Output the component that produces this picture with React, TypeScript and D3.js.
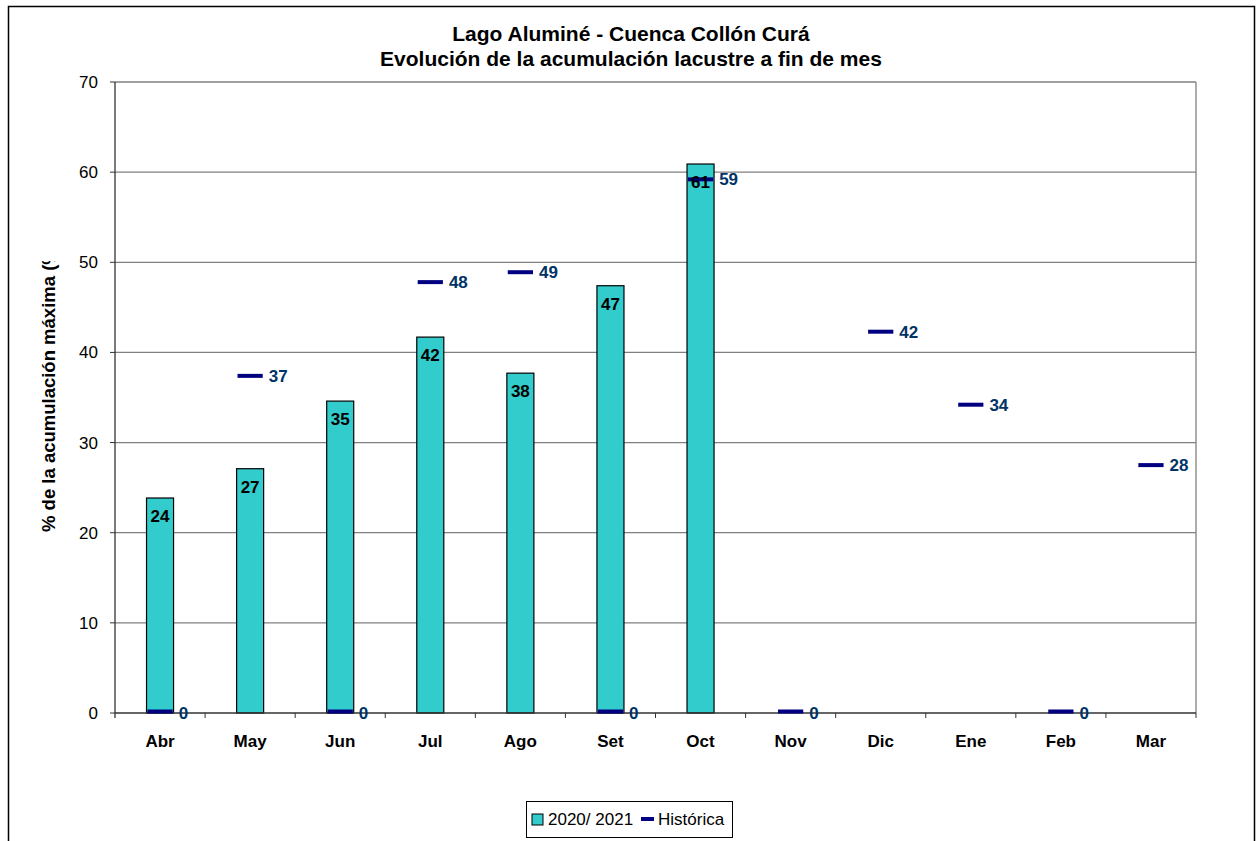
import React from "react";
import * as d3 from "d3";

const months = ["Abr", "May", "Jun", "Jul", "Ago", "Set", "Oct", "Nov", "Dic", "Ene", "Feb", "Mar"];
const current: (number | null)[] = [23.85, 27.1, 34.6, 41.7, 37.7, 47.4, 60.9, null, null, null, null, null];
const historic: number[] = [0, 37.4, 0, 47.8, 48.9, 0, 59.2, 0, 42.3, 34.2, 0, 27.5];
const yTicks = [0, 10, 20, 30, 40, 50, 60, 70];
const titleLines = ["Lago Aluminé - Cuenca Collón Curá", "Evolución de la acumulación lacustre a fin de mes"];
const yTitle = "% de la acumulación máxima (%)";
const seriesNames = ["2020/ 2021", "Histórica"];

const W = 1260, H = 841;
const left = 115, right = 1196, top = 82, bottom = 713;
const font = "Liberation Sans, Arial, sans-serif";

export default function App() {
  const x = d3.scaleBand<string>().domain(months).range([left, right]);
  const y = d3.scaleLinear().domain([0, 70]).range([bottom, top]);
  const bw = x.bandwidth();
  const barW = bw * 0.3;
  const markW = bw * 0.28;
  return (
    <svg width={W} height={H} style={{ position: "absolute", left: 0, top: 0, background: "#fff" }} fontFamily={font}>
      <defs>
        <clipPath id="ytclip">
          <rect x={0} y={261} width={110} height={400} />
        </clipPath>
      </defs>
      <rect x={0} y={0} width={W} height={H} fill="#fff" />
      <path d={`M8.5,${H} V6.5 H1254.5 V${H}`} fill="none" stroke="#000" strokeWidth={1.5} />
      {titleLines.map((t, i) => (
        <text key={i} x={631} y={41 + i * 25} textAnchor="middle" fontWeight="bold" fontSize={21}>{t}</text>
      ))}
      {yTicks.map((t) => (
        <g key={t}>
          {t > 0 && <line x1={left} x2={right} y1={y(t)} y2={y(t)} stroke="#808080" strokeWidth={1.3} />}
          <line x1={left - 5} x2={left} y1={y(t)} y2={y(t)} stroke="#333" strokeWidth={1} />
          <text x={left - 17} y={y(t) + 6} textAnchor="end" fontSize={17}>{t}</text>
        </g>
      ))}
      <line x1={right} x2={right} y1={top} y2={bottom} stroke="#808080" strokeWidth={1.3} />
      {current.map((v, i) =>
        v == null ? null : (
          <rect key={i} x={(x(months[i]) as number) + (bw - barW) / 2} y={y(v)} width={barW} height={bottom - y(v)}
            fill="#33CCCC" stroke="#000" strokeWidth={1.2} />
        )
      )}
      <line x1={left} x2={right} y1={bottom} y2={bottom} stroke="#333" strokeWidth={1.3} />
      <line x1={left} x2={left} y1={top} y2={bottom + 5} stroke="#333" strokeWidth={1.3} />
      {months.map((m, i) => (
        <g key={m}>
          <line x1={x(m)! + bw} x2={x(m)! + bw} y1={bottom} y2={bottom + 5} stroke="#333" strokeWidth={1} />
          <text x={x(m)! + bw / 2} y={bottom + 34} textAnchor="middle" fontWeight="bold" fontSize={17}>{m}</text>
        </g>
      ))}
      {historic.map((v, i) => (
        <g key={i}>
          <line x1={x(months[i])! + (bw - markW) / 2} x2={x(months[i])! + (bw + markW) / 2} y1={y(v) - (v === 0 ? 1.5 : 0)} y2={y(v) - (v === 0 ? 1.5 : 0)}
            stroke="#000080" strokeWidth={4} />
          <text x={x(months[i])! + (bw + markW) / 2 + 6} y={y(v) + 6} fontWeight="bold" fontSize={17} fill="#003366">{Math.round(v)}</text>
        </g>
      ))}
      {current.map((v, i) =>
        v == null ? null : (
          <text key={i} x={x(months[i])! + bw / 2} y={y(v) + 24} textAnchor="middle" fontWeight="bold" fontSize={17}>{Math.round(v)}</text>
        )
      )}
      <g clipPath="url(#ytclip)">
        <text transform={`translate(55,532) rotate(-90)`} textAnchor="start" fontWeight="bold" fontSize={18.5}>{yTitle}</text>
      </g>
      <g>
        <rect x={526.5} y={801.5} width={206} height={36} fill="#fff" stroke="#000" strokeWidth={1} />
        <rect x={532} y={814} width={11} height={11} fill="#33CCCC" stroke="#000" strokeWidth={1} />
        <text x={548} y={825} fontSize={17}>{seriesNames[0]}</text>
        <line x1={641} x2={654} y1={819} y2={819} stroke="#000080" strokeWidth={4} />
        <text x={658} y={825} fontSize={17}>{seriesNames[1]}</text>
      </g>
    </svg>
  );
}
